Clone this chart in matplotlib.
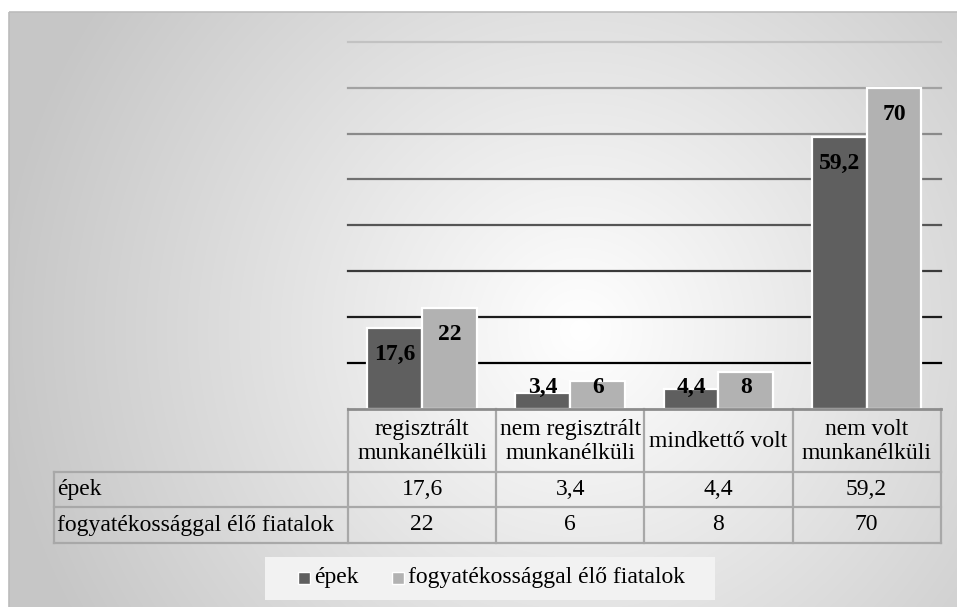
import numpy as np
import matplotlib.pyplot as plt
from matplotlib.patches import Rectangle

# data
categories = ["regisztrált\nmunkanélküli", "nem regisztrált\nmunkanélküli",
              "mindkettő volt", "nem volt\nmunkanélküli"]
series_names = ["épek", "fogyatékossággal élő fiatalok"]
epek = [17.6, 3.4, 4.4, 59.2]
fogyatekos = [22, 6, 8, 70]

W, H = 957, 607
serif = ["Liberation Serif", "DejaVu Serif"]
dark, light = "#5f5f5f", "#b2b2b2"
fs = 17

fig = plt.figure(figsize=(W / 100, H / 100), dpi=100)

# background: radial gray gradient inside the chart area
bg = fig.add_axes([0, 0, 1, 1], zorder=-5)
yy, xx = np.mgrid[0:H, 0:W]
d = np.sqrt((xx - 580) ** 2 + (yy - 330) ** 2) / 580
g = 1.0 - 0.22 * np.clip(d, 0, 1)
img = np.ones((H, W))
img[12:, 9:] = g[12:, 9:]
bg.imshow(np.dstack([img] * 3), extent=[0, W, H, 0], aspect="auto", interpolation="bilinear")
bg.set_xlim(0, W)
bg.set_ylim(H, 0)
bg.axis("off")
bg.add_patch(Rectangle((9, 12), W, H, fill=False, edgecolor="#bcbcbc", lw=1.2))

def fx(px):
    return px / W

def fy(py):
    return 1 - py / H

# plot area
x0, x1, ybase, ytop = 348, 940.7, 409, 41.7
ax = fig.add_axes([fx(x0), fy(ybase), fx(x1) - fx(x0), fy(ytop) - fy(ybase)])
ax.patch.set_alpha(0)
for s in ax.spines.values():
    s.set_visible(False)
ax.set_xlim(-0.5, len(categories) - 0.5)
ax.set_ylim(0, 80)
ax.set_xticks([])
ax.set_yticks([])

grays = ["#000000", "#1c1c1c", "#3a3a3a", "#555555", "#707070", "#8a8a8a", "#a2a2a2", "#c2c2c2"]
for lvl, c in zip(range(10, 90, 10), grays):
    ax.axhline(lvl, color=c, lw=1.6, zorder=1, clip_on=False)

x = np.arange(len(categories))
w = 0.37
b1 = ax.bar(x - w / 2, epek, w, color=dark, edgecolor="white", lw=1.6, zorder=3)
b2 = ax.bar(x + w / 2, fogyatekos, w, color=light, edgecolor="white", lw=1.6, zorder=3)

for bars, vals in [(b1, epek), (b2, fogyatekos)]:
    for r, v in zip(bars, vals):
        ypos = max(v - 5.8, 4.7)
        ax.text(r.get_x() + r.get_width() / 2, ypos, f"{v:g}".replace(".", ","),
                ha="center", va="center", fontsize=17, fontweight="bold",
                family=serif, zorder=4)

# data table under the plot
tab = fig.add_axes([0, 0, 1, 1], zorder=2)
tab.set_xlim(0, W)
tab.set_ylim(H, 0)
tab.axis("off")
tab.patch.set_alpha(0)

cw = (x1 - x0) / len(categories)
cols = [x0 + i * cw for i in range(len(categories) + 1)]
left = 54
rows = [ybase, 472, 507, 543]
lc = "#a8a8a8"

# header row (categories only)
for xc in cols:
    tab.plot([xc, xc], [rows[0], rows[1]], color=lc, lw=1.6)
tab.plot([x0, x1], [rows[0], rows[0]], color="#8c8c8c", lw=2)
for i, c in enumerate(categories):
    tab.text((cols[i] + cols[i + 1]) / 2, (rows[0] + rows[1]) / 2 + 1, c,
             ha="center", va="center", fontsize=fs, family=serif,
             linespacing=1.2)

# data rows
for yl in rows[1:]:
    tab.plot([left, x1], [yl, yl], color=lc, lw=1.6)
for xc in [left] + cols:
    tab.plot([xc, xc], [rows[1], rows[3]], color=lc, lw=1.6)
for r, (name, vals) in enumerate(zip(series_names, [epek, fogyatekos])):
    yc = (rows[r + 1] + rows[r + 2]) / 2
    tab.text(left + 3, yc, name, ha="left", va="center", fontsize=fs, family=serif)
    for i, v in enumerate(vals):
        tab.text((cols[i] + cols[i + 1]) / 2, yc, f"{v:g}".replace(".", ","),
                 ha="center", va="center", fontsize=fs, family=serif)

# legend
tab.add_patch(Rectangle((265, 557), 450, 43, facecolor="#f2f2f2", edgecolor="none"))
tab.add_patch(Rectangle((298, 572), 12, 12, facecolor=dark, edgecolor="white", lw=1))
tab.text(314, 578, series_names[0], ha="left", va="center", fontsize=fs, family=serif)
tab.add_patch(Rectangle((392, 572), 12, 12, facecolor=light, edgecolor="white", lw=1))
tab.text(408, 578, series_names[1], ha="left", va="center", fontsize=fs, family=serif)

fig.savefig("out.png", dpi=100)
